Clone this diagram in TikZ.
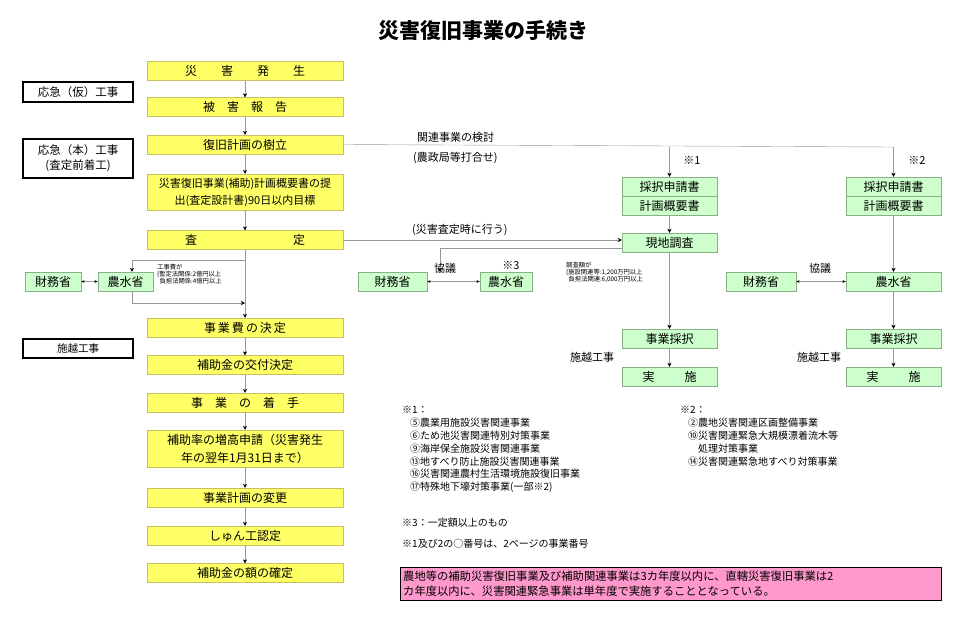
\documentclass[tikz,border=0pt]{standalone}
\usepackage{fontspec}
\setmainfont{Noto Sans CJK JP}
\usetikzlibrary{arrows.meta}
\definecolor{yb}{HTML}{FFFF66}
\definecolor{yd}{HTML}{C8C060}
\definecolor{gb}{HTML}{CCFFCC}
\definecolor{gd}{HTML}{88B088}
\definecolor{pk}{HTML}{FF99CC}
\begin{document}
\begin{tikzpicture}[x=1pt,y=-1pt,
 yel/.style={draw=yd,fill=yb,minimum width=196pt,minimum height=19pt,inner sep=0pt,font=\fontsize{12}{15}\selectfont,align=center},
 grn/.style={draw=gd,fill=gb,minimum height=19pt,inner sep=0pt,font=\fontsize{12}{15}\selectfont},
 wb/.style={draw=black,line width=1.6pt,fill=white,minimum width=110pt,inner sep=1pt,font=\fontsize{11.5}{15}\selectfont,align=center},
 ar/.style={draw=gray!80,-{Stealth[black,length=4pt,width=4pt]}},
 ln/.style={draw=gray!80},
 lb/.style={font=\fontsize{11}{13}\selectfont,inner sep=0pt},
 sm/.style={font=\fontsize{6.3}{7.2}\selectfont,inner sep=0pt,align=left},
 nt/.style={font=\fontsize{10}{12.8}\selectfont,inner sep=0pt,anchor=west,align=left}]
\useasboundingbox (0,0) rectangle (960,621);
\node[font=\bfseries\fontsize{21}{24}\selectfont] (title) at (483,31) {災害復旧事業の手続き};
% main column
\node[yel] (y1) at (245,71) {災\hspace{2em}害\hspace{2em}発\hspace{2em}生};
\node[yel] (y2) at (245,107) {被\hspace{1em}害\hspace{1em}報\hspace{1em}告};
\node[yel] (y3) at (245,144.5) {復旧計画の樹立};
\node[yel,minimum height=36pt,font=\fontsize{11}{17}\selectfont] (y4) at (245,192) {災害復旧事業(補助)計画概要書の提\\出(査定設計書)90日以内目標};
\node[yel] (y5) at (245,240) {査\hspace{8em}定};
\node[yel] (y6) at (245,327.5) {事\,業\,費\,の\,決\,定};
\node[yel] (y7) at (245,365) {補助金の交付決定};
\node[yel] (y8) at (245,402.5) {事\hspace{1em}業\hspace{1em}の\hspace{1em}着\hspace{1em}手};
\node[yel,minimum height=37pt,font=\fontsize{12}{18}\selectfont] (y9) at (245,448.5) {補助率の増高申請（災害発生\\年の翌年1月31日まで）};
\node[yel] (y10) at (245,497.5) {事業計画の変更};
\node[yel] (y11) at (245,535.5) {しゅん工認定};
\node[yel] (y12) at (245,573) {補助金の額の確定};
\draw[ar] (y1) -- (y2);
\draw[ar] (y2) -- (y3);
\draw[ar] (y3) -- (y4);
\draw[ar] (y4) -- (y5);
\draw[ar] (y5) -- (y6);
\draw[ar] (y6) -- (y7);
\draw[ar] (y7) -- (y8);
\draw[ar] (y8) -- (y9);
\draw[ar] (y9) -- (y10);
\draw[ar] (y10) -- (y11);
\draw[ar] (y11) -- (y12);
% left white boxes
\node[wb,minimum height=20pt] (w1) at (78,92) {応急（仮）工事};
\node[wb,minimum height=39pt] (w2) at (78,158.5) {応急（本）工事\\(査定前着工)};
\node[wb,minimum height=19pt,font=\fontsize{10.5}{13}\selectfont] (w3) at (78,348.5) {施越工事};
% left ministries
\node[grn,minimum width=56pt] (zm1) at (53,281.5) {財務省};
\node[grn,minimum width=55pt] (nm1) at (125.5,281.5) {農水省};
\draw[{Stealth[black,length=3.5pt]}-{Stealth[black,length=3.5pt]},draw=gray!80] (zm1) -- (nm1);
\coordinate (a1) at (245,260);
\coordinate (a2) at (132,260);
\coordinate (a3) at (132,303);
\coordinate (a4) at (245,303);
\draw[ar] (a1) -- (a2) -- (nm1.north -| a2);
\draw[ar] (nm1.south -| a3) -- (a3) -- (a4);
\node[sm,anchor=north west] (s1) at (157,264) {工事費が\\\{暫定法関係:2億円以上\\\ \,負担法関係:4億円以上};
% column 1
\node[grn,minimum width=95pt] (c1a) at (669.5,186.5) {採択申請書};
\node[grn,minimum width=95pt] (c1b) at (669.5,205.5) {計画概要書};
\node[grn,minimum width=95pt] (c1c) at (669.5,242.5) {現地調査};
\node[grn,minimum width=52pt] (nm2) at (506,281.5) {農水省};
\node[grn,minimum width=69pt] (zm2) at (392.5,281.5) {財務省};
\node[grn,minimum width=95pt] (c1d) at (669.5,338.5) {事業採択};
\node[grn,minimum width=95pt] (c1e) at (669.5,376.5) {実\hspace{2.5em}施};
% column 2
\node[grn,minimum width=95pt] (c2a) at (893.5,186.5) {採択申請書};
\node[grn,minimum width=95pt] (c2b) at (893.5,205.5) {計画概要書};
\node[grn,minimum width=95pt] (nm3) at (893.5,281.5) {農水省};
\node[grn,minimum width=70pt] (zm3) at (761,281.5) {財務省};
\node[grn,minimum width=95pt] (c2d) at (893.5,338.5) {事業採択};
\node[grn,minimum width=95pt] (c2e) at (893.5,376.5) {実\hspace{2.5em}施};
% connectors right
\coordinate (k1) at (669.5,147);
\coordinate (k2) at (893.5,147);
\draw[ln] (y3.east) -- (k2);
\draw[ar] (k1) -- (c1a);
\draw[ar] (k2) -- (c2a);
\draw[ar] (y5.east) -- (c1c.west |- y5.east);
\draw[ar] (c1b) -- (c1c);
\coordinate (m1) at (440,248);
\draw[ar] (c1c.west |- m1) -- (m1) -- (nm2.north -| m1);
\draw[{Stealth[black,length=3.5pt]}-{Stealth[black,length=3.5pt]},draw=gray!80] (zm2) -- (nm2);
\draw[ar] (c1c) -- (c1d);
\draw[ar] (c1d) -- (c1e);
\draw[ar] (c2b) -- (nm3);
\draw[{Stealth[black,length=3.5pt]}-{Stealth[black,length=3.5pt]},draw=gray!80] (zm3) -- (nm3);
\draw[ar] (nm3) -- (c2d);
\draw[ar] (c2d) -- (c2e);
% labels
\node[lb,anchor=west] (l1) at (417,137) {関連事業の検討};
\node[lb,anchor=west] (l2) at (413,158) {(農政局等打合せ)};
\node[lb,anchor=west] (l3) at (412,230) {(災害査定時に行う)};
\node[lb] (l4) at (692,160) {※1};
\node[lb] (l5) at (917,160) {※2};
\node[lb] (l6) at (511,265) {※3};
\node[lb] (l7) at (445,268) {協議};
\node[lb] (l8) at (820,268) {協議};
\node[lb] (l9) at (592,357) {施越工事};
\node[lb] (l10) at (819,357) {施越工事};
\node[sm,anchor=north west] (s2) at (566,262) {調査額が\\\{施設関連等:1,200万円以上\\\ \,負担法関連:6,000万円以上};
% notes
\node[nt] (n1) at (402,410) {※1：};
\node[nt,anchor=north west] (n1l) at (410,418) {⑤農業用施設災害関連事業\\⑥ため池災害関連特別対策事業\\⑨海岸保全施設災害関連事業\\⑬地すべり防止施設災害関連事業\\⑯災害関連農村生活環境施設復旧事業\\⑰特殊地下壕対策事業(一部※2)};
\node[nt] (n2) at (680,410) {※2：};
\node[nt,anchor=north west] (n2l) at (688,418) {②農地災害関連区画整備事業\\⑩災害関連緊急大規模漂着流木等\\\hspace{1em}処理対策事業\\⑭災害関連緊急地すべり対策事業};
\node[nt] (n3) at (402,523) {※3：一定額以上のもの};
\node[nt] (n4) at (402,544) {※1及び2の○番号は、2ページの事業番号};
\node[draw=black,fill=pk,minimum width=541pt,minimum height=33pt,inner sep=3pt,anchor=west,align=left,font=\fontsize{11.3}{15}\selectfont,text width=535pt] (pb) at (400,583.5) {農地等の補助災害復旧事業及び補助関連事業は3カ年度以内に、直轄災害復旧事業は2\\カ年度以内に、災害関連緊急事業は単年度で実施することとなっている。};
\end{tikzpicture}
\end{document}
